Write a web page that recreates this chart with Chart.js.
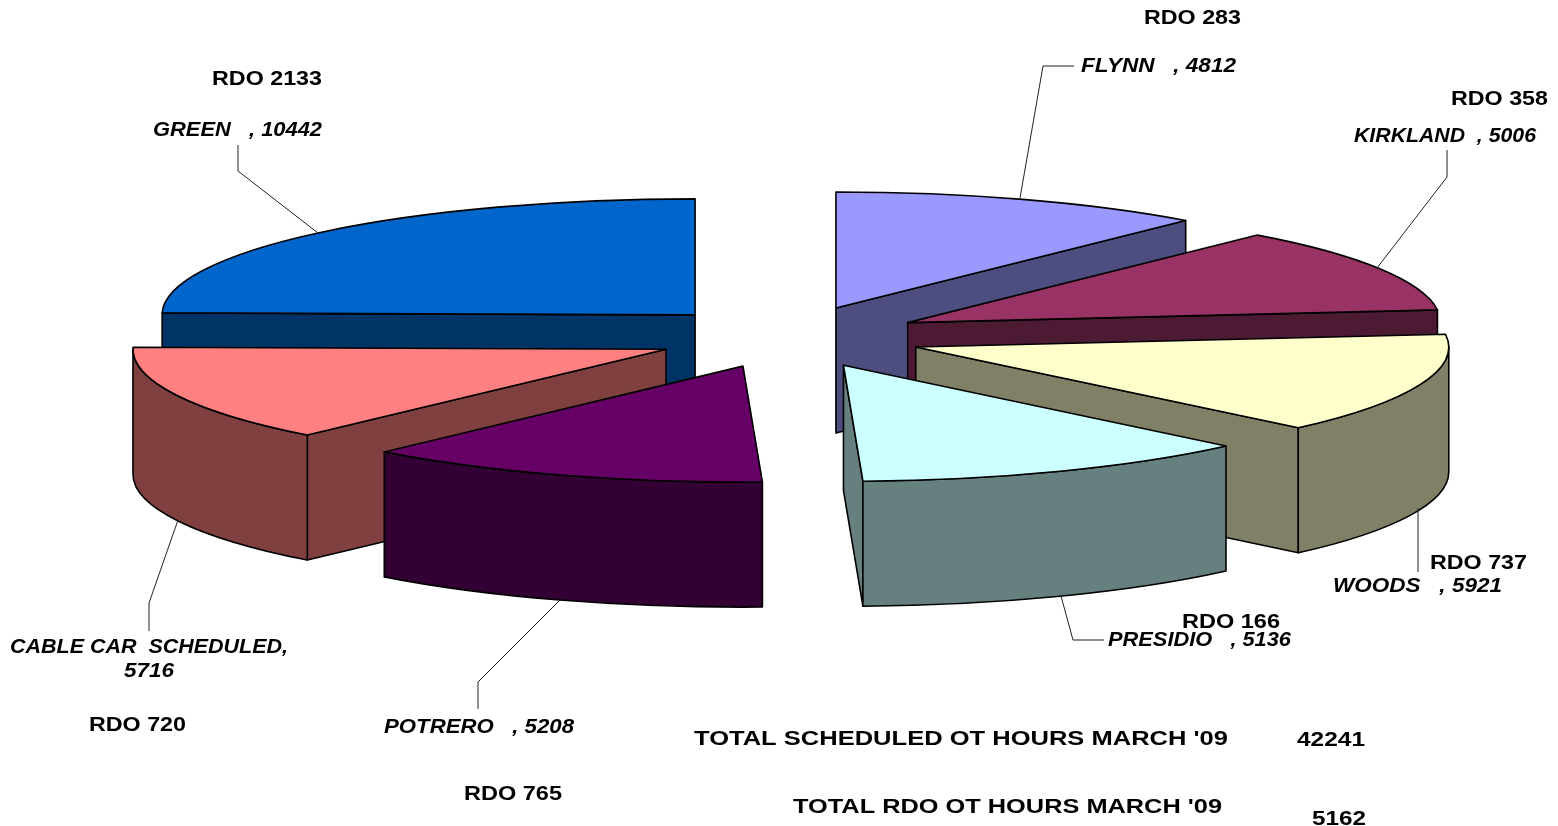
<!DOCTYPE html>
<html>
<head>
<meta charset="utf-8">
<title>Scheduled OT hours March '09</title>
<script src="https://cdn.jsdelivr.net/npm/chart.js@4"></script>
<style>
    body { margin: 0; background: #fff; }
    #chart { display: block; }
</style>
</head>
<body>
<canvas id="chart" width="1558" height="826"></canvas>
<script>
// data, clockwise from 12 o'clock
const categories = ["FLYNN", "KIRKLAND", "WOODS", "PRESIDIO", "POTRERO", "CABLE CAR  SCHEDULED", "GREEN"];
const scheduledHours = [4812, 5006, 5921, 5136, 5208, 5716, 10442];
const rdoHours = [283, 358, 737, 166, 765, 720, 2133];
const totalScheduled = 42241;
const totalRdo = 5162;

const topColors = ["#9999ff", "#993366", "#ffffcc", "#ccffff", "#660066", "#ff8080", "#0066cc"];
const sideColors = ["#4d4d80", "#4d1a33", "#808066", "#668080", "#330033", "#804040", "#003366"];

// [x left, x right, baseline], same order as categories
const nameBoxes = [[1081, 1236, 72], [1354, 1536, 142], [1333, 1502, 592], [1108, 1291, 646], [384, 574, 733], null, [153, 322, 136]];
const nameGaps = ["   ", "  ", "   ", "   ", "   ", "", "   "];
const rdoBoxes = [[1144, 1241, 24], [1451, 1548, 105], [1430, 1527, 569], [1182, 1280, 628], [464, 562, 800], [89, 186, 731], [212, 322, 85]];

const leaders = [
    [[1020, 198], [1043, 66], [1074, 66]],
    [[1447, 150], [1447, 177], [1377, 268]],
    [[1418, 508], [1418, 572]],
    [[1061, 596], [1073, 640], [1104, 640]],
    [[560, 600], [478, 682], [478, 709]],
    [[178, 520], [149, 603], [149, 631]],
    [[238, 145], [238, 171], [318, 233]]
];

// pie geometry on the page
const pieX = 789;
const pieY = 337;
const squash = 0.2176;
const explodeX = 134;
const explodeY = 31;
const depth = 125;

function fitText(ctx, text, x0, x1, y, font) {
    ctx.save();
    ctx.font = font;
    ctx.fillStyle = "#000";
    ctx.textBaseline = "alphabetic";
    const w = ctx.measureText(text).width;
    ctx.translate(x0, y);
    ctx.scale((x1 - x0) / w, 1);
    ctx.fillText(text, 0, 0);
    ctx.restore();
}

function drawSlice(ctx, arc, i) {
    const start = arc.startAngle;
    const end = arc.endAngle;
    const r = arc.outerRadius;
    const mid = (start + end) / 2;
    const ox = pieX + Math.cos(mid) * explodeX;
    const oy = pieY + Math.sin(mid) * explodeY;
    const px = a => ox + r * Math.cos(a);
    const py = a => oy + r * Math.sin(a) * squash;

    ctx.lineWidth = 1.6;
    ctx.lineJoin = "round";
    ctx.strokeStyle = "#000";
    ctx.fillStyle = sideColors[i];

    // cut faces, only the ones turned to the viewer
    [[start, start - Math.PI / 2], [end, end + Math.PI / 2]].forEach(function (face) {
        if (Math.sin(face[1]) <= 0.001) return;
        ctx.beginPath();
        ctx.moveTo(ox, oy);
        ctx.lineTo(px(face[0]), py(face[0]));
        ctx.lineTo(px(face[0]), py(face[0]) + depth);
        ctx.lineTo(ox, oy + depth);
        ctx.closePath();
        ctx.fill();
        ctx.stroke();
    });

    // outer wall
    const a0 = Math.max(start, 0);
    const a1 = Math.min(end, Math.PI);
    if (a1 > a0) {
        ctx.beginPath();
        ctx.ellipse(ox, oy, r, r * squash, 0, a0, a1);
        ctx.ellipse(ox, oy + depth, r, r * squash, 0, a1, a0, true);
        ctx.closePath();
        ctx.fill();
        ctx.stroke();
    }

    // top face is the library's own arc, flattened
    ctx.save();
    ctx.translate(ox, oy);
    ctx.scale(1, squash);
    ctx.translate(-arc.x, -arc.y);
    arc.draw(ctx);
    ctx.restore();

    ctx.beginPath();
    ctx.moveTo(ox, oy);
    ctx.ellipse(ox, oy, r, r * squash, 0, start, end);
    ctx.closePath();
    ctx.stroke();
}

const pie3d = {
    id: "pie3d",
    beforeDatasetsDraw(chart) {
        const ctx = chart.ctx;
        const arcs = chart.getDatasetMeta(0).data;
        // back slices first
        const order = arcs.map((a, i) => i).sort(function (a, b) {
            const ma = (arcs[a].startAngle + arcs[a].endAngle) / 2;
            const mb = (arcs[b].startAngle + arcs[b].endAngle) / 2;
            return Math.sin(ma) - Math.sin(mb);
        });
        ctx.save();
        order.forEach(i => drawSlice(ctx, arcs[i], i));
        ctx.restore();
        return false;
    },
    afterDraw(chart) {
        const ctx = chart.ctx;
        ctx.save();
        ctx.strokeStyle = "#222";
        ctx.lineWidth = 1;
        leaders.forEach(function (pts) {
            ctx.beginPath();
            pts.forEach((p, i) => i ? ctx.lineTo(p[0], p[1]) : ctx.moveTo(p[0], p[1]));
            ctx.stroke();
        });
        ctx.restore();

        const bold = 'bold 21px "Liberation Sans"';
        const ital = 'italic bold 20px "Liberation Sans"';
        categories.forEach(function (name, i) {
            if (nameBoxes[i]) {
                const b = nameBoxes[i];
                fitText(ctx, name + nameGaps[i] + ", " + scheduledHours[i], b[0], b[1], b[2], ital);
            }
            const r = rdoBoxes[i];
            fitText(ctx, "RDO " + rdoHours[i], r[0], r[1], r[2], bold);
        });
        // this one wraps on two lines
        fitText(ctx, categories[5] + ",", 10, 288, 653, ital);
        fitText(ctx, String(scheduledHours[5]), 124, 174, 677, ital);

        fitText(ctx, "TOTAL SCHEDULED OT HOURS MARCH '09", 694, 1228, 745, bold);
        fitText(ctx, String(totalScheduled), 1297, 1365, 746, bold);
        fitText(ctx, "TOTAL RDO OT HOURS MARCH '09", 793, 1222, 813, bold);
        fitText(ctx, String(totalRdo), 1312, 1366, 825, bold);
    }
};

new Chart(document.getElementById("chart"), {
    type: "pie",
    data: {
        labels: categories,
        datasets: [{
            data: scheduledHours,
            backgroundColor: topColors,
            borderWidth: 0
        }]
    },
    options: {
        responsive: false,
        animation: false,
        radius: 533,
        plugins: {
            legend: { display: false },
            tooltip: { enabled: false }
        }
    },
    plugins: [pie3d]
});
</script>
</body>
</html>
